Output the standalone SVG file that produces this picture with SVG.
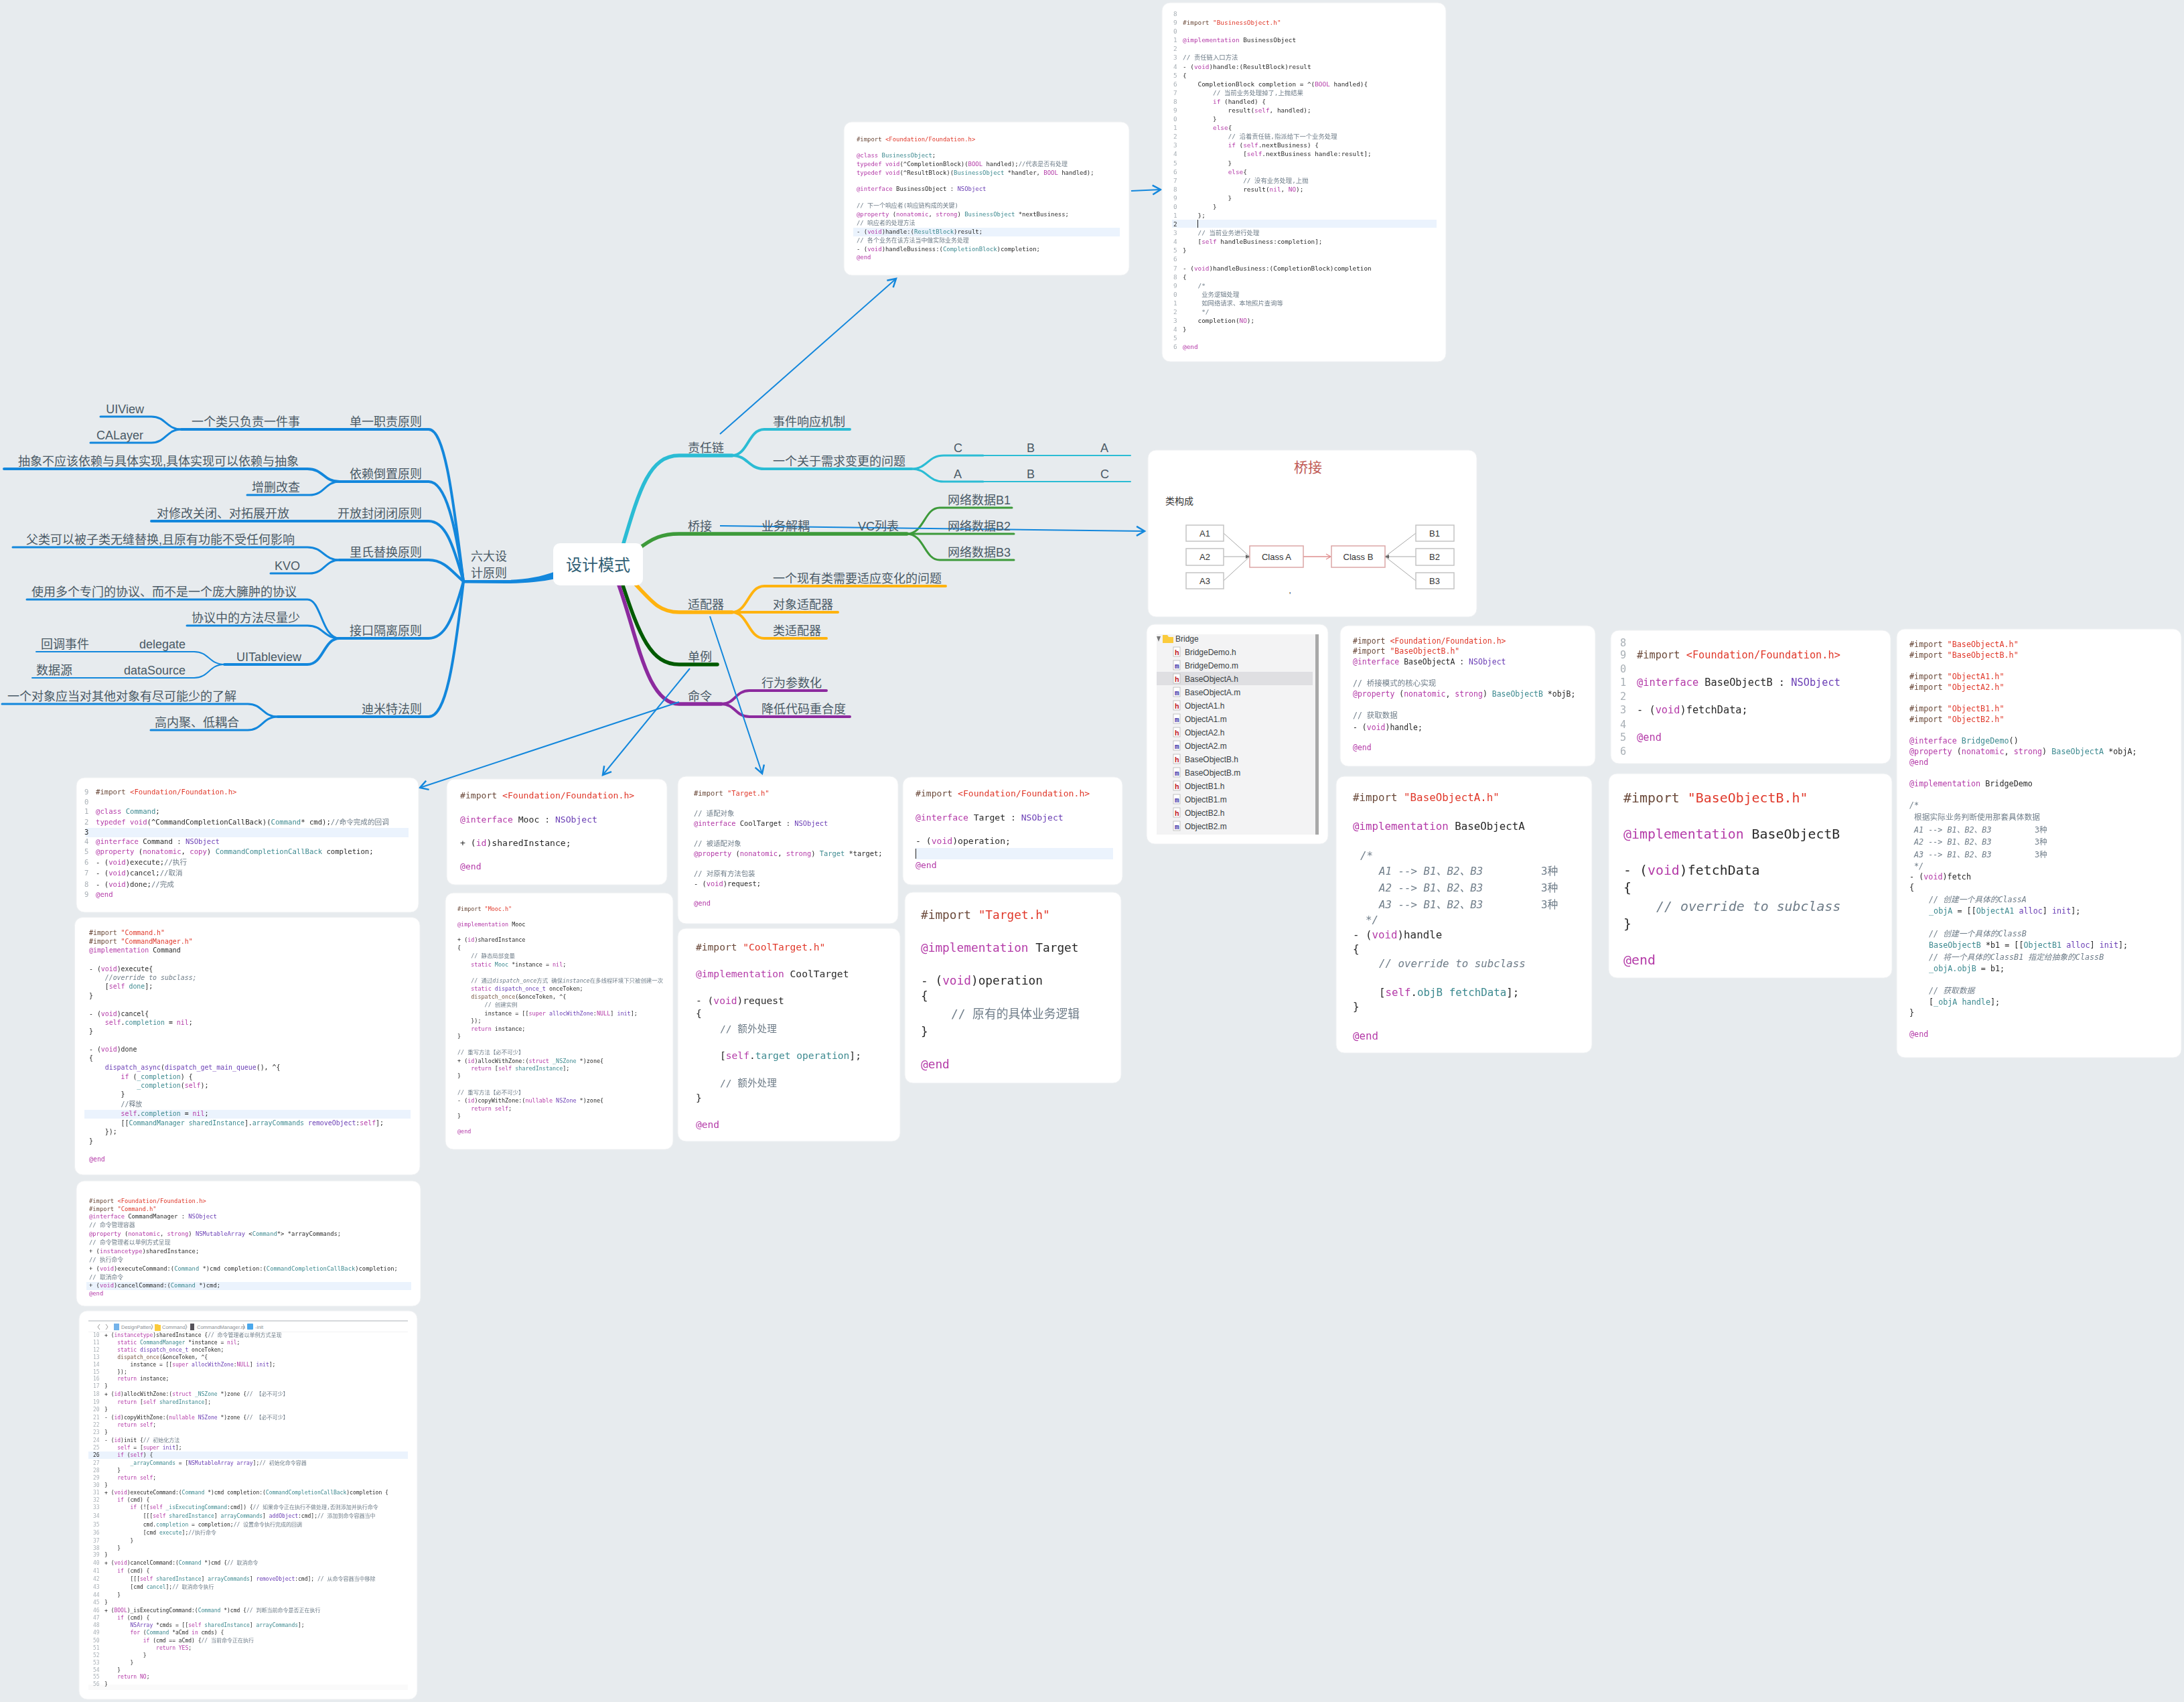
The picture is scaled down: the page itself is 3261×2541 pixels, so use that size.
<svg xmlns="http://www.w3.org/2000/svg" width="3261" height="2541" viewBox="0 0 3261 2541">
<style>
.card{fill:#fff;stroke:#eef0f2;stroke-width:1}
.hl{fill:#ebf3fd}
.topic{font-family:"Liberation Sans","Noto Sans CJK SC",sans-serif;font-size:18px;fill:#4a5a66}
.e{text-anchor:end}
.l{fill:none;stroke-linecap:round;stroke-linejoin:round}
.b{stroke:#1387dc}.cy{stroke:#2bbcd4}.gr{stroke:#3d9a3a}.ye{stroke:#ffb30f}.dg{stroke:#005a00}.pu{stroke:#8c2a9e}
.w2{stroke-width:2}.w3{stroke-width:3}.w4{stroke-width:4}.w5{stroke-width:5.5}
.ar{fill:none;stroke:#1387dc;stroke-width:2;marker-end:url(#open)}
.code text{font-family:"DejaVu Sans Mono","Noto Sans CJK SC",monospace;white-space:pre;fill:#2a2a2a}
.code text.num{fill:#a9b0b6}
.k{fill:#b43ba8}.s{fill:#e0392b}.t{fill:#3e8a90}.p{fill:#6b3fb5}.c{fill:#6f7d89}.i{font-style:italic}.d{fill:#6b4a3a}.m{fill:#7a5a48}
.code text.k{fill:#b43ba8}.code text.c{fill:#6f7d89}
.side text{font-family:"Liberation Sans","Noto Sans CJK SC",sans-serif;font-size:12px;fill:#3a3f44}
.box{fill:#fff;stroke:#c4c4c4;stroke-width:1.5}
.cbox{fill:#fff;stroke:#dba6a6;stroke-width:1.5}
.bt{font-family:"Liberation Sans","Noto Sans CJK SC",sans-serif;font-size:13px;fill:#333;text-anchor:middle}
.ficon{fill:#fff;stroke:#b5b5b5;stroke-width:.8}
.side text.h{fill:#c0202a;font-weight:bold;font-size:11px;font-family:"Liberation Mono",monospace}
.side text.mm{fill:#3b2fa8;font-weight:bold;font-size:11px;font-family:"Liberation Mono",monospace}
.crumb{font-family:"Liberation Sans",sans-serif;font-size:7.5px;fill:#8a8f95}
</style>
<defs>
<marker id="open" markerUnits="userSpaceOnUse" markerWidth="30" markerHeight="30" refX="15" refY="15" orient="auto" overflow="visible"><path d="M3,8 L15,15 L3,22" fill="none" stroke="#1387dc" stroke-width="2.5" stroke-linejoin="miter"/></marker>
<filter id="soft" x="-2%" y="-2%" width="104%" height="104%"><feGaussianBlur stdDeviation="0.45"/></filter>
</defs>
<rect width="3261" height="2541" fill="#e7ebee"/>

<g id="connectors">
<path fill="#1387dc" d="M830,853 C805,862 782,865.500 755,866 L692,866 L692,870.500 L755,871 C782,871 806,869 830,864 Z"/>
<path class="l b w4" d="M692,868 C678,760 666,641 640,641 L271,641"/>
<path class="l b w4" d="M692,868 C680,785 666,719 640,719 L507,719"/>
<path class="l b w4" d="M692,868 C676,810 664,778 640,778 L226,778"/>
<path class="l b w4" d="M692,868 C676,855 664,836 640,836 L507,836"/>
<path class="l b w4" d="M692,868 C676,925 664,953 640,953 L507,953"/>
<path class="l b w4" d="M692,868 C678,990 666,1070 640,1070 L415,1070"/>
<path class="l b w3" d="M271,641 C248,641 248,622 226,622 L150,622"/>
<path class="l b w3" d="M271,641 C248,641 248,661 226,661 L135,661"/>
<path class="l b w4" d="M507,719 C483,719 483,700 459,700 L6,700"/>
<path class="l b w3" d="M507,719 C485,719 485,739 462,739 L369,739"/>
<path class="l b w3" d="M507,836 C483,836 483,817 459,817 L19,817"/>
<path class="l b w3" d="M507,836 C485,836 485,856 462,856 L404,856"/>
<path class="l b w3" d="M507,953 C480,953 480,895 459,895 L40,895"/>
<path class="l b w3" d="M507,953 C483,953 483,934 459,934 L279,934"/>
<path class="l b w4" d="M507,953 C483,953 483,992 459,992 L335,992"/>
<path class="l b w2" d="M335,992 C312,992 312,973 290,973 L54,973"/>
<path class="l b w2" d="M335,992 C312,992 312,1012 290,1012 L48,1012"/>
<path class="l b w3" d="M415,1070 C392,1070 392,1051 370,1051 L3,1051"/>
<path class="l b w3" d="M415,1070 C392,1070 392,1090 370,1090 L225,1090"/>

<path class="l cy w5" d="M931,811 C955,730 970,680 1014,680 L1093,680"/>
<path class="l cy w4" d="M1093,680 C1117,680 1117,641 1141,641 L1269,641"/>
<path class="l cy w4" d="M1093,680 C1117,680 1117,700 1141,700 L1361,700"/>
<path class="l cy w3" d="M1361,700 C1385,700 1385,680 1409,680 L1468,680"/>
<path class="l cy w3" d="M1361,700 C1385,700 1385,719 1409,719 L1468,719"/>
<path class="l cy w2" d="M1468,680 L1688,680 M1468,719 L1688,719"/>
<path class="l gr w5" d="M950,822 C975,802 990,797 1014,797 L1354,797"/>
<path class="l gr w3" d="M1354,797 C1380,797 1380,758 1403,758 L1511,758"/>
<path class="l gr w3" d="M1354,797 L1514,797"/>
<path class="l gr w3" d="M1354,797 C1380,797 1380,836 1403,836 L1514,836"/>
<path class="l ye w5" d="M945,868 C975,900 985,914 1014,914 L1093,914"/>
<path class="l ye w4" d="M1093,914 C1117,914 1117,875 1141,875 L1412,875"/>
<path class="l ye w4" d="M1093,914 L1251,914"/>
<path class="l ye w4" d="M1093,914 C1117,914 1117,953 1141,953 L1234,953"/>
<path class="l dg w5" d="M928,868 C955,950 972,992 1014,992 L1071,992"/>
<path class="l pu w5" d="M922,868 C952,950 965,1051 1014,1051 L1077,1051"/>
<path class="l pu w4" d="M1077,1051 C1098,1051 1098,1031 1119,1031 L1234,1031"/>
<path class="l pu w4" d="M1077,1051 C1098,1051 1098,1070 1119,1070 L1269,1070"/>

<path class="ar" d="M1075,648 L1338,416"/>
<path class="ar" d="M1689,285 L1733,283"/>
<path class="ar" d="M1075,785 L1709,793"/>
<path class="ar" d="M1060,920 L1138,1155"/>
<path class="ar" d="M1030,998 L900,1157"/>
<path class="ar" d="M1014,1048 L627,1176"/>
</g>

<g id="node-root"><rect x="826" y="811" width="134" height="63" rx="10" fill="#fff"/><text x="893" y="852" text-anchor="middle" font-family="'Noto Sans CJK SC',sans-serif" font-size="24" fill="#2f5d73">设计模式</text></g>
<g id="node-six"><text class="topic" x="703" y="837">六大设</text><text class="topic" x="703" y="862">计原则</text></g>
<g id="node-srp"><text class="topic e" x="630" y="636">单一职责原则</text></g>
<g id="node-srp1"><text class="topic e" x="448" y="636">一个类只负责一件事</text></g>
<g id="node-uiview"><text class="topic e" x="215" y="617">UIView</text></g>
<g id="node-calayer"><text class="topic e" x="214" y="656">CALayer</text></g>
<g id="node-dip"><text class="topic e" x="630" y="714">依赖倒置原则</text></g>
<g id="node-dip1"><text class="topic e" x="446" y="695">抽象不应该依赖与具体实现,具体实现可以依赖与抽象</text></g>
<g id="node-dip2"><text class="topic e" x="448" y="734">增删改查</text></g>
<g id="node-ocp"><text class="topic e" x="630" y="773">开放封闭闭原则</text></g>
<g id="node-ocp1"><text class="topic e" x="432" y="773">对修改关闭、对拓展开放</text></g>
<g id="node-lsp"><text class="topic e" x="630" y="831">里氏替换原则</text></g>
<g id="node-lsp1"><text class="topic e" x="440" y="812">父类可以被子类无缝替换,且原有功能不受任何影响</text></g>
<g id="node-kvo"><text class="topic e" x="448" y="851">KVO</text></g>
<g id="node-isp"><text class="topic e" x="630" y="948">接口隔离原则</text></g>
<g id="node-isp1"><text class="topic e" x="443" y="890">使用多个专门的协议、而不是一个庞大臃肿的协议</text></g>
<g id="node-isp2"><text class="topic e" x="448" y="929">协议中的方法尽量少</text></g>
<g id="node-table"><text class="topic e" x="450" y="987">UITableview</text></g>
<g id="node-delegate"><text class="topic e" x="277" y="968">delegate</text></g>
<g id="node-cb"><text class="topic e" x="133" y="968">回调事件</text></g>
<g id="node-ds"><text class="topic e" x="277" y="1007">dataSource</text></g>
<g id="node-dsrc"><text class="topic e" x="108" y="1007">数据源</text></g>
<g id="node-lod"><text class="topic e" x="630" y="1065">迪米特法则</text></g>
<g id="node-lod1"><text class="topic e" x="353" y="1046">一个对象应当对其他对象有尽可能少的了解</text></g>
<g id="node-lod2"><text class="topic e" x="357" y="1085">高内聚、低耦合</text></g>

<g id="node-cor"><text class="topic" x="1027" y="675">责任链</text></g>
<g id="node-cor1"><text class="topic" x="1154" y="636">事件响应机制</text></g>
<g id="node-cor2"><text class="topic" x="1154" y="695">一个关于需求变更的问题</text></g>
<g id="node-c1"><text class="topic" x="1424" y="675">C</text></g>
<g id="node-b1"><text class="topic" x="1533" y="675">B</text></g>
<g id="node-a1"><text class="topic" x="1643" y="675">A</text></g>
<g id="node-a2"><text class="topic" x="1424" y="714">A</text></g>
<g id="node-b2"><text class="topic" x="1533" y="714">B</text></g>
<g id="node-c2"><text class="topic" x="1643" y="714">C</text></g>
<g id="node-bridge"><text class="topic" x="1027" y="792">桥接</text></g>
<g id="node-bridge1"><text class="topic" x="1137" y="792">业务解耦</text></g>
<g id="node-bridge2"><text class="topic" x="1281" y="792">VC列表</text></g>
<g id="node-net1"><text class="topic" x="1415" y="753">网络数据B1</text></g>
<g id="node-net2"><text class="topic" x="1415" y="792">网络数据B2</text></g>
<g id="node-net3"><text class="topic" x="1415" y="831">网络数据B3</text></g>
<g id="node-adapter"><text class="topic" x="1027" y="909">适配器</text></g>
<g id="node-ad1"><text class="topic" x="1154" y="870">一个现有类需要适应变化的问题</text></g>
<g id="node-ad2"><text class="topic" x="1154" y="909">对象适配器</text></g>
<g id="node-ad3"><text class="topic" x="1154" y="948">类适配器</text></g>
<g id="node-singleton"><text class="topic" x="1027" y="987">单例</text></g>
<g id="node-command"><text class="topic" x="1027" y="1046">命令</text></g>
<g id="node-cmd1"><text class="topic" x="1137" y="1026">行为参数化</text></g>
<g id="node-cmd2"><text class="topic" x="1137" y="1065">降低代码重合度</text></g>

<g id="card-business-h"><rect class="card" x="1260" y="182" width="426" height="229" rx="12"/><rect class="hl" x="1274" y="340" width="398" height="13"/>
<g class="code" font-size="8.94" filter="url(#soft)">
<text x="1279" y="211"><tspan class="d">#import </tspan><tspan class="s">&lt;Foundation/Foundation.h&gt;</tspan></text>
<text x="1279" y="235"><tspan class="k">@class</tspan> <tspan class="t">BusinessObject</tspan>;</text>
<text x="1279" y="248"><tspan class="k">typedef void</tspan>(^CompletionBlock)(<tspan class="k">BOOL</tspan> handled);<tspan class="c">//代表是否有处理</tspan></text>
<text x="1279" y="261"><tspan class="k">typedef void</tspan>(^ResultBlock)(<tspan class="t">BusinessObject</tspan> *handler, <tspan class="k">BOOL</tspan> handled);</text>
<text x="1279" y="285"><tspan class="k">@interface</tspan> BusinessObject : <tspan class="p">NSObject</tspan></text>
<text x="1279" y="310"><tspan class="c">// 下一个响应者(响应链构成的关键)</tspan></text>
<text x="1279" y="323"><tspan class="k">@property</tspan> (<tspan class="k">nonatomic</tspan>, <tspan class="k">strong</tspan>) <tspan class="t">BusinessObject</tspan> *nextBusiness;</text>
<text x="1279" y="336"><tspan class="c">// 响应者的处理方法</tspan></text>
<text x="1279" y="349">- (<tspan class="k">void</tspan>)handle:(<tspan class="t">ResultBlock</tspan>)result;</text>
<text x="1279" y="362"><tspan class="c">// 各个业务在该方法当中做实际业务处理</tspan></text>
<text x="1279" y="375">- (<tspan class="k">void</tspan>)handleBusiness:(<tspan class="t">CompletionBlock</tspan>)completion;</text>
<text x="1279" y="387" class="k">@end</text>
</g></g>

<g id="card-business-m"><rect class="card" x="1735" y="4" width="424" height="536" rx="12"/><rect class="hl" x="1750" y="328" width="395" height="12"/><rect x="1788" y="328" width="1" height="12" fill="#222"/>
<g class="code" font-size="9.37" filter="url(#soft)">
<text class="num" x="1752" y="24">8</text><text class="num" x="1752" y="37">9</text><text class="num" x="1752" y="50">0</text><text class="num" x="1752" y="63">1</text><text class="num" x="1752" y="76">2</text><text class="num" x="1752" y="89">3</text><text class="num" x="1752" y="103">4</text><text class="num" x="1752" y="116">5</text><text class="num" x="1752" y="129">6</text><text class="num" x="1752" y="142">7</text><text class="num" x="1752" y="155">8</text><text class="num" x="1752" y="168">9</text><text class="num" x="1752" y="181">0</text><text class="num" x="1752" y="194">1</text><text class="num" x="1752" y="207">2</text><text class="num" x="1752" y="220">3</text><text class="num" x="1752" y="233">4</text><text class="num" x="1752" y="247">5</text><text class="num" x="1752" y="260">6</text><text class="num" x="1752" y="273">7</text><text class="num" x="1752" y="286">8</text><text class="num" x="1752" y="299">9</text><text class="num" x="1752" y="312">0</text><text class="num" x="1752" y="325">1</text><text x="1752" y="338">2</text><text class="num" x="1752" y="351">3</text><text class="num" x="1752" y="364">4</text><text class="num" x="1752" y="377">5</text><text class="num" x="1752" y="390">6</text><text class="num" x="1752" y="404">7</text><text class="num" x="1752" y="417">8</text><text class="num" x="1752" y="430">9</text><text class="num" x="1752" y="443">0</text><text class="num" x="1752" y="456">1</text><text class="num" x="1752" y="469">2</text><text class="num" x="1752" y="482">3</text><text class="num" x="1752" y="495">4</text><text class="num" x="1752" y="508">5</text><text class="num" x="1752" y="521">6</text>
<text x="1766" y="37"><tspan class="d">#import </tspan><tspan class="s">"BusinessObject.h"</tspan></text>
<text x="1766" y="63"><tspan class="k">@implementation</tspan> BusinessObject</text>
<text x="1766" y="89"><tspan class="c">// 责任链入口方法</tspan></text>
<text x="1766" y="103">- (<tspan class="k">void</tspan>)handle:(ResultBlock)result</text>
<text x="1766" y="116">{</text>
<text x="1766" y="129">    CompletionBlock completion = ^(<tspan class="k">BOOL</tspan> handled){</text>
<text x="1766" y="142">        <tspan class="c">// 当前业务处理掉了,上抛结果</tspan></text>
<text x="1766" y="155">        <tspan class="k">if</tspan> (handled) {</text>
<text x="1766" y="168">            result(<tspan class="k">self</tspan>, handled);</text>
<text x="1766" y="181">        }</text>
<text x="1766" y="194">        <tspan class="k">else</tspan>{</text>
<text x="1766" y="207">            <tspan class="c">// 沿着责任链,指派给下一个业务处理</tspan></text>
<text x="1766" y="220">            <tspan class="k">if</tspan> (<tspan class="k">self</tspan>.nextBusiness) {</text>
<text x="1766" y="233">                [<tspan class="k">self</tspan>.nextBusiness handle:result];</text>
<text x="1766" y="247">            }</text>
<text x="1766" y="260">            <tspan class="k">else</tspan>{</text>
<text x="1766" y="273">                <tspan class="c">// 没有业务处理,上抛</tspan></text>
<text x="1766" y="286">                result(<tspan class="k">nil</tspan>, <tspan class="k">NO</tspan>);</text>
<text x="1766" y="299">            }</text>
<text x="1766" y="312">        }</text>
<text x="1766" y="325">    };</text>
<text x="1766" y="351">    <tspan class="c">// 当前业务进行处理</tspan></text>
<text x="1766" y="364">    [<tspan class="k">self</tspan> handleBusiness:completion];</text>
<text x="1766" y="377">}</text>
<text x="1766" y="404">- (<tspan class="k">void</tspan>)handleBusiness:(CompletionBlock)completion</text>
<text x="1766" y="417">{</text>
<text x="1766" y="430">    <tspan class="c">/*</tspan></text>
<text x="1766" y="443">     <tspan class="c">业务逻辑处理</tspan></text>
<text x="1766" y="456">     <tspan class="c">如网络请求、本地照片查询等</tspan></text>
<text x="1766" y="469">     <tspan class="c">*/</tspan></text>
<text x="1766" y="482">    completion(<tspan class="k">NO</tspan>);</text>
<text x="1766" y="495">}</text>
<text x="1766" y="521" class="k">@end</text>
</g></g>

<g id="card-bridge-diagram"><rect class="card" x="1714" y="672" width="491" height="249" rx="12"/>
<text x="1953" y="705" text-anchor="middle" font-family="'Noto Sans CJK SC',sans-serif" font-size="21" fill="#c05a55">桥接</text>
<text x="1740" y="753" font-family="'Noto Sans CJK SC',sans-serif" font-size="14" fill="#333">类构成</text>
<path d="M1827,796 L1866,831 M1827,831 L1866,831 M1827,867 L1866,831 M2114,796 L2068,831 M2114,831 L2068,831 M2114,867 L2068,831" fill="none" stroke="#a8a8a8" stroke-width="1"/>
<path d="M1946,831 L1986,831 M1980,827 L1987,831 L1980,835" fill="none" stroke="#e08f8f" stroke-width="1.3"/>
<path d="M1860,828 L1866,831 L1860,834 Z M2074,828 L2068,831 L2074,834 Z" fill="#666"/>
<rect class="box" x="1771" y="784" width="56" height="24"/><text class="bt" x="1799" y="801">A1</text>
<rect class="box" x="1771" y="819" width="56" height="25"/><text class="bt" x="1799" y="836">A2</text>
<rect class="box" x="1771" y="855" width="56" height="24"/><text class="bt" x="1799" y="872">A3</text>
<rect class="cbox" x="1866" y="815" width="80" height="32"/><text class="bt" x="1906" y="836">Class A</text>
<rect class="cbox" x="1988" y="815" width="80" height="32"/><text class="bt" x="2028" y="836">Class B</text>
<rect class="box" x="2114" y="784" width="57" height="24"/><text class="bt" x="2142" y="801">B1</text>
<rect class="box" x="2114" y="819" width="57" height="25"/><text class="bt" x="2142" y="836">B2</text>
<rect class="box" x="2114" y="855" width="57" height="24"/><text class="bt" x="2142" y="872">B3</text>
<text x="1925" y="893" font-family="'Liberation Sans',sans-serif" font-size="12" fill="#333">'</text>
</g>

<g id="card-bridge-files" class="side"><rect class="card" x="1712" y="932" width="271" height="328" rx="12"/><rect x="1727" y="947" width="242" height="299" fill="#f3f3f4"/><rect x="1964" y="947" width="5" height="299" fill="#a8a8a8"/><rect x="1727" y="1003" width="233" height="20" fill="#dfdfe2"/>
<path d="M1727,950 L1733,950 L1730,958 Z" fill="#777"/>
<path d="M1736,948 L1743,948 L1745,951 L1752,951 L1752,960 L1736,960 Z" fill="#fbcb3c"/>
<text x="1755" y="957.500">Bridge</text>
<rect class="ficon" x="1752" y="966" width="10" height="14"/><text class="h" x="1754" y="978">h</text><text x="1769" y="978">BridgeDemo.h</text>
<rect class="ficon" x="1752" y="986" width="10" height="14"/><text class="mm" x="1754" y="998">m</text><text x="1769" y="998">BridgeDemo.m</text>
<rect class="ficon" x="1752" y="1006" width="10" height="14"/><text class="h" x="1754" y="1018">h</text><text x="1769" y="1018">BaseObjectA.h</text>
<rect class="ficon" x="1752" y="1026" width="10" height="14"/><text class="mm" x="1754" y="1038">m</text><text x="1769" y="1038">BaseObjectA.m</text>
<rect class="ficon" x="1752" y="1046" width="10" height="14"/><text class="h" x="1754" y="1058">h</text><text x="1769" y="1058">ObjectA1.h</text>
<rect class="ficon" x="1752" y="1066" width="10" height="14"/><text class="mm" x="1754" y="1078">m</text><text x="1769" y="1078">ObjectA1.m</text>
<rect class="ficon" x="1752" y="1086" width="10" height="14"/><text class="h" x="1754" y="1098">h</text><text x="1769" y="1098">ObjectA2.h</text>
<rect class="ficon" x="1752" y="1106" width="10" height="14"/><text class="mm" x="1754" y="1118">m</text><text x="1769" y="1118">ObjectA2.m</text>
<rect class="ficon" x="1752" y="1126" width="10" height="14"/><text class="h" x="1754" y="1138">h</text><text x="1769" y="1138">BaseObjectB.h</text>
<rect class="ficon" x="1752" y="1146" width="10" height="14"/><text class="mm" x="1754" y="1158">m</text><text x="1769" y="1158">BaseObjectB.m</text>
<rect class="ficon" x="1752" y="1166" width="10" height="14"/><text class="h" x="1754" y="1178">h</text><text x="1769" y="1178">ObjectB1.h</text>
<rect class="ficon" x="1752" y="1186" width="10" height="14"/><text class="mm" x="1754" y="1198">m</text><text x="1769" y="1198">ObjectB1.m</text>
<rect class="ficon" x="1752" y="1206" width="10" height="14"/><text class="h" x="1754" y="1218">h</text><text x="1769" y="1218">ObjectB2.h</text>
<rect class="ficon" x="1752" y="1226" width="10" height="14"/><text class="mm" x="1754" y="1238">m</text><text x="1769" y="1238">ObjectB2.m</text>
</g>

<g id="card-basea-h"><rect class="card" x="2001" y="934" width="381" height="210" rx="12"/>
<g class="code" font-size="11.5" filter="url(#soft)">
<text x="2020" y="961"><tspan class="d">#import </tspan><tspan class="s">&lt;Foundation/Foundation.h&gt;</tspan></text>
<text x="2020" y="976"><tspan class="d">#import </tspan><tspan class="s">"BaseObjectB.h"</tspan></text>
<text x="2020" y="992"><tspan class="k">@interface</tspan> BaseObjectA : <tspan class="p">NSObject</tspan></text>
<text x="2020" y="1024"><tspan class="c">// 桥接模式的核心实现</tspan></text>
<text x="2020" y="1040"><tspan class="k">@property</tspan> (<tspan class="k">nonatomic</tspan>, <tspan class="k">strong</tspan>) <tspan class="t">BaseObjectB</tspan> *objB;</text>
<text x="2020" y="1072"><tspan class="c">// 获取数据</tspan></text>
<text x="2020" y="1090">- (<tspan class="k">void</tspan>)handle;</text>
<text x="2020" y="1120" class="k">@end</text>
</g></g>

<g id="card-baseb-h"><rect class="card" x="2405" y="941" width="418" height="199" rx="12"/>
<g class="code" font-size="15.3" filter="url(#soft)">
<text class="num" x="2419" y="965">8</text><text class="num" x="2419" y="983">9</text><text class="num" x="2419" y="1004">0</text><text class="num" x="2419" y="1024">1</text><text class="num" x="2419" y="1045">2</text><text class="num" x="2419" y="1065">3</text><text class="num" x="2419" y="1087">4</text><text class="num" x="2419" y="1106">5</text><text class="num" x="2419" y="1127">6</text>
<text x="2444" y="983"><tspan class="d">#import </tspan><tspan class="s">&lt;Foundation/Foundation.h&gt;</tspan></text>
<text x="2444" y="1024"><tspan class="k">@interface</tspan> BaseObjectB : <tspan class="p">NSObject</tspan></text>
<text x="2444" y="1065">- (<tspan class="k">void</tspan>)fetchData;</text>
<text x="2444" y="1106" class="k">@end</text>
</g></g>

<g id="card-demo-m"><rect class="card" x="2832" y="939" width="425" height="640" rx="12"/>
<g class="code" font-size="11.75" filter="url(#soft)">
<text x="2851" y="966"><tspan class="d">#import </tspan><tspan class="s">"BaseObjectA.h"</tspan></text>
<text x="2851" y="982"><tspan class="d">#import </tspan><tspan class="s">"BaseObjectB.h"</tspan></text>
<text x="2851" y="1014"><tspan class="d">#import </tspan><tspan class="s">"ObjectA1.h"</tspan></text>
<text x="2851" y="1030"><tspan class="d">#import </tspan><tspan class="s">"ObjectA2.h"</tspan></text>
<text x="2851" y="1062"><tspan class="d">#import </tspan><tspan class="s">"ObjectB1.h"</tspan></text>
<text x="2851" y="1078"><tspan class="d">#import </tspan><tspan class="s">"ObjectB2.h"</tspan></text>
<text x="2851" y="1110"><tspan class="k">@interface</tspan> <tspan class="t">BridgeDemo</tspan>()</text>
<text x="2851" y="1126"><tspan class="k">@property</tspan> (<tspan class="k">nonatomic</tspan>, <tspan class="k">strong</tspan>) <tspan class="t">BaseObjectA</tspan> *objA;</text>
<text x="2851" y="1142" class="k">@end</text>
<text x="2851" y="1174"><tspan class="k">@implementation</tspan> BridgeDemo</text>
<text x="2851" y="1206" class="c i">/*</text>
<text x="2858" y="1224" class="c">根据实际业务判断使用那套具体数据</text>
<text x="2858" y="1243" class="c i">A1 --&gt; B1、B2、B3</text><text x="3038" y="1243" class="c">3种</text>
<text x="2858" y="1261" class="c i">A2 --&gt; B1、B2、B3</text><text x="3038" y="1261" class="c">3种</text>
<text x="2858" y="1280" class="c i">A3 --&gt; B1、B2、B3</text><text x="3038" y="1280" class="c">3种</text>
<text x="2858" y="1297" class="c i">*/</text>
<text x="2851" y="1313">- (<tspan class="k">void</tspan>)fetch</text>
<text x="2851" y="1329">{</text>
<text x="2880" y="1347" class="c i">// 创建一个具体的ClassA</text>
<text x="2880" y="1364"><tspan class="t">_objA</tspan> = [[<tspan class="t">ObjectA1</tspan> <tspan class="p">alloc</tspan>] <tspan class="p">init</tspan>];</text>
<text x="2880" y="1398" class="c i">// 创建一个具体的ClassB</text>
<text x="2880" y="1415"><tspan class="t">BaseObjectB</tspan> *b1 = [[<tspan class="t">ObjectB1</tspan> <tspan class="p">alloc</tspan>] <tspan class="p">init</tspan>];</text>
<text x="2880" y="1433" class="c i">// 将一个具体的ClassB1 指定给抽象的ClassB</text>
<text x="2880" y="1450"><tspan class="t">_objA.objB</tspan> = b1;</text>
<text x="2880" y="1483" class="c i">// 获取数据</text>
<text x="2880" y="1500">[<tspan class="t">_objA</tspan> <tspan class="t">handle</tspan>];</text>
<text x="2851" y="1516">}</text>
<text x="2851" y="1548" class="k">@end</text>
</g></g>

<g id="card-basea-m"><rect class="card" x="1995" y="1159" width="382" height="413" rx="12"/>
<g class="code" font-size="15.8" filter="url(#soft)">
<text x="2020" y="1196"><tspan class="d">#import </tspan><tspan class="s">"BaseObjectA.h"</tspan></text>
<text x="2020" y="1239"><tspan class="k">@implementation</tspan> BaseObjectA</text>
<text x="2031" y="1283" class="c i">/*</text>
<text x="2059" y="1306" class="c i">A1 --&gt; B1、B2、B3</text><text x="2301" y="1306" class="c">3种</text>
<text x="2059" y="1331" class="c i">A2 --&gt; B1、B2、B3</text><text x="2301" y="1331" class="c">3种</text>
<text x="2059" y="1356" class="c i">A3 --&gt; B1、B2、B3</text><text x="2301" y="1356" class="c">3种</text>
<text x="2039" y="1379" class="c i">*/</text>
<text x="2020" y="1401">- (<tspan class="k">void</tspan>)handle</text>
<text x="2020" y="1422">{</text>
<text x="2059" y="1444" class="c i">// override to subclass</text>
<text x="2059" y="1487">[<tspan class="k">self</tspan>.<tspan class="t">objB fetchData</tspan>];</text>
<text x="2020" y="1508">}</text>
<text x="2020" y="1552" class="k">@end</text>
</g></g>

<g id="card-baseb-m"><rect class="card" x="2402" y="1155" width="423" height="305" rx="12"/>
<g class="code" font-size="19.9" filter="url(#soft)">
<text x="2424" y="1198"><tspan class="d">#import </tspan><tspan class="s">"BaseObjectB.h"</tspan></text>
<text x="2424" y="1252"><tspan class="k">@implementation</tspan> BaseObjectB</text>
<text x="2424" y="1306">- (<tspan class="k">void</tspan>)fetchData</text>
<text x="2424" y="1332">{</text>
<text x="2473" y="1360" class="c i">// override to subclass</text>
<text x="2424" y="1386">}</text>
<text x="2424" y="1440" class="k">@end</text>
</g></g>

<g id="card-mooc-h"><rect class="card" x="667" y="1163" width="329" height="158" rx="12"/>
<g class="code" font-size="13.1" filter="url(#soft)">
<text x="687" y="1192"><tspan class="d">#import </tspan><tspan class="s">&lt;Foundation/Foundation.h&gt;</tspan></text>
<text x="687" y="1228"><tspan class="k">@interface</tspan> Mooc : <tspan class="p">NSObject</tspan></text>
<text x="687" y="1263">+ (<tspan class="k">id</tspan>)sharedInstance;</text>
<text x="687" y="1298" class="k">@end</text>
</g></g>

<g id="card-mooc-m"><rect class="card" x="665" y="1333" width="340" height="383" rx="12"/>
<g class="code" font-size="8.44" filter="url(#soft)">
<text x="683" y="1360"><tspan class="d">#import </tspan><tspan class="s">"Mooc.h"</tspan></text>
<text x="683" y="1383"><tspan class="k">@implementation</tspan> Mooc</text>
<text x="683" y="1406">+ (<tspan class="k">id</tspan>)sharedInstance</text>
<text x="683" y="1418">{</text>
<text x="683" y="1430">    <tspan class="c">// 静态局部变量</tspan></text>
<text x="683" y="1443">    <tspan class="k">static</tspan> <tspan class="t">Mooc</tspan> *instance = <tspan class="k">nil</tspan>;</text>
<text x="683" y="1467">    <tspan class="c">// 通过<tspan class="i">dispatch_once</tspan>方式 确保<tspan class="i">instance</tspan>在多线程环境下只被创建一次</tspan></text>
<text x="683" y="1479">    <tspan class="k">static</tspan> <tspan class="p">dispatch_once_t</tspan> onceToken;</text>
<text x="683" y="1491">    <tspan class="m">dispatch_once</tspan>(&amp;onceToken, ^{</text>
<text x="683" y="1503">        <tspan class="c">// 创建实例</tspan></text>
<text x="683" y="1516">        instance = [[<tspan class="k">super</tspan> <tspan class="p">allocWithZone</tspan>:<tspan class="k">NULL</tspan>] <tspan class="p">init</tspan>];</text>
<text x="683" y="1527">    });</text>
<text x="683" y="1539">    <tspan class="k">return</tspan> instance;</text>
<text x="683" y="1550">}</text>
<text x="683" y="1574" class="c">// 重写方法【必不可少】</text>
<text x="683" y="1587">+ (<tspan class="k">id</tspan>)allocWithZone:(<tspan class="k">struct</tspan> <tspan class="t">_NSZone</tspan> *)zone{</text>
<text x="683" y="1598">    <tspan class="k">return</tspan> [<tspan class="k">self</tspan> <tspan class="t">sharedInstance</tspan>];</text>
<text x="683" y="1609">}</text>
<text x="683" y="1634" class="c">// 重写方法【必不可少】</text>
<text x="683" y="1646">- (<tspan class="k">id</tspan>)copyWithZone:(<tspan class="k">nullable</tspan> <tspan class="p">NSZone</tspan> *)zone{</text>
<text x="683" y="1658">    <tspan class="k">return self</tspan>;</text>
<text x="683" y="1669">}</text>
<text x="683" y="1692" class="k">@end</text>
</g></g>

<g id="card-cool-h"><rect class="card" x="1012" y="1159" width="329" height="220" rx="12"/>
<g class="code" font-size="10.4" filter="url(#soft)">
<text x="1036" y="1188"><tspan class="d">#import </tspan><tspan class="s">"Target.h"</tspan></text>
<text x="1036" y="1218" class="c">// 适配对象</text>
<text x="1036" y="1233"><tspan class="k">@interface</tspan> CoolTarget : <tspan class="p">NSObject</tspan></text>
<text x="1036" y="1263" class="c">// 被适配对象</text>
<text x="1036" y="1278"><tspan class="k">@property</tspan> (<tspan class="k">nonatomic</tspan>, <tspan class="k">strong</tspan>) <tspan class="t">Target</tspan> *target;</text>
<text x="1036" y="1308" class="c">// 对原有方法包装</text>
<text x="1036" y="1323">- (<tspan class="k">void</tspan>)request;</text>
<text x="1036" y="1352" class="k">@end</text>
</g></g>

<g id="card-target-h"><rect class="card" x="1348" y="1160" width="328" height="161" rx="12"/><rect class="hl" x="1367" y="1266" width="295" height="17"/><rect x="1367" y="1267" width="1" height="15" fill="#222"/>
<g class="code" font-size="13.1" filter="url(#soft)">
<text x="1367" y="1189"><tspan class="d">#import </tspan><tspan class="s">&lt;Foundation/Foundation.h&gt;</tspan></text>
<text x="1367" y="1225"><tspan class="k">@interface</tspan> Target : <tspan class="p">NSObject</tspan></text>
<text x="1367" y="1260">- (<tspan class="k">void</tspan>)operation;</text>
<text x="1367" y="1296" class="k">@end</text>
</g></g>

<g id="card-cool-m"><rect class="card" x="1012" y="1386" width="332" height="318" rx="12"/>
<g class="code" font-size="14.6" filter="url(#soft)">
<text x="1039" y="1419"><tspan class="d">#import </tspan><tspan class="s">"CoolTarget.h"</tspan></text>
<text x="1039" y="1459"><tspan class="k">@implementation</tspan> CoolTarget</text>
<text x="1039" y="1499">- (<tspan class="k">void</tspan>)request</text>
<text x="1039" y="1518">{</text>
<text x="1075" y="1541" class="c">// 额外处理</text>
<text x="1075" y="1581">[<tspan class="k">self</tspan>.<tspan class="t">target operation</tspan>];</text>
<text x="1075" y="1622" class="c">// 额外处理</text>
<text x="1039" y="1644">}</text>
<text x="1039" y="1684" class="k">@end</text>
</g></g>

<g id="card-target-m"><rect class="card" x="1351" y="1332" width="323" height="285" rx="12"/>
<g class="code" font-size="17.8" filter="url(#soft)">
<text x="1375" y="1372"><tspan class="d">#import </tspan><tspan class="s">"Target.h"</tspan></text>
<text x="1375" y="1421"><tspan class="k">@implementation</tspan> Target</text>
<text x="1375" y="1470">- (<tspan class="k">void</tspan>)operation</text>
<text x="1375" y="1493">{</text>
<text x="1420" y="1520" class="c">// 原有的具体业务逻辑</text>
<text x="1375" y="1546">}</text>
<text x="1375" y="1595" class="k">@end</text>
</g></g>

<g id="card-command-h"><rect class="card" x="114" y="1161" width="511" height="201" rx="12"/><rect class="hl" x="128" y="1236" width="482" height="14"/>
<g class="code" font-size="10.6" filter="url(#soft)">
<text class="num" x="126" y="1186">9</text><text class="num" x="126" y="1201">0</text><text class="num" x="126" y="1215">1</text><text class="num" x="126" y="1231">2</text><text x="126" y="1246">3</text><text class="num" x="126" y="1260">4</text><text class="num" x="126" y="1275">5</text><text class="num" x="126" y="1291">6</text><text class="num" x="126" y="1307">7</text><text class="num" x="126" y="1324">8</text><text class="num" x="126" y="1339">9</text>
<text x="143" y="1186"><tspan class="d">#import </tspan><tspan class="s">&lt;Foundation/Foundation.h&gt;</tspan></text>
<text x="143" y="1215"><tspan class="k">@class</tspan> <tspan class="t">Command</tspan>;</text>
<text x="143" y="1231"><tspan class="k">typedef void</tspan>(^CommandCompletionCallBack)(<tspan class="t">Command</tspan>* cmd);<tspan class="c">//命令完成的回调</tspan></text>
<text x="143" y="1260"><tspan class="k">@interface</tspan> Command : <tspan class="p">NSObject</tspan></text>
<text x="143" y="1275"><tspan class="k">@property</tspan> (<tspan class="k">nonatomic</tspan>, <tspan class="k">copy</tspan>) <tspan class="t">CommandCompletionCallBack</tspan> completion;</text>
<text x="143" y="1291">- (<tspan class="k">void</tspan>)execute;<tspan class="c">//执行</tspan></text>
<text x="143" y="1307">- (<tspan class="k">void</tspan>)cancel;<tspan class="c">//取消</tspan></text>
<text x="143" y="1324">- (<tspan class="k">void</tspan>)done;<tspan class="c">//完成</tspan></text>
<text x="143" y="1339" class="k">@end</text>
</g></g>

<g id="card-command-m"><rect class="card" x="111.500" y="1369.500" width="515.500" height="384.500" rx="12"/><rect class="hl" x="126" y="1657" width="487" height="13"/>
<g class="code" font-size="9.9" filter="url(#soft)">
<text x="133" y="1396"><tspan class="d">#import </tspan><tspan class="s">"Command.h"</tspan></text>
<text x="133" y="1409"><tspan class="d">#import </tspan><tspan class="s">"CommandManager.h"</tspan></text>
<text x="133" y="1422"><tspan class="k">@implementation</tspan> Command</text>
<text x="133" y="1450">- (<tspan class="k">void</tspan>)execute{</text>
<text x="133" y="1463">    <tspan class="c i">//override to subclass;</tspan></text>
<text x="133" y="1476">    [<tspan class="k">self</tspan> <tspan class="t">done</tspan>];</text>
<text x="133" y="1489.500">}</text>
<text x="133" y="1517">- (<tspan class="k">void</tspan>)cancel{</text>
<text x="133" y="1530">    <tspan class="k">self</tspan>.<tspan class="t">completion</tspan> = <tspan class="k">nil</tspan>;</text>
<text x="133" y="1543">}</text>
<text x="133" y="1570">- (<tspan class="k">void</tspan>)done</text>
<text x="133" y="1583">{</text>
<text x="133" y="1597">    <tspan class="p">dispatch_async</tspan>(<tspan class="p">dispatch_get_main_queue</tspan>(), ^{</text>
<text x="133" y="1610.500">        <tspan class="k">if</tspan> (<tspan class="t">_completion</tspan>) {</text>
<text x="133" y="1624">            <tspan class="t">_completion</tspan>(<tspan class="k">self</tspan>);</text>
<text x="133" y="1637">        }</text>
<text x="133" y="1652">        <tspan class="c">//释放</tspan></text>
<text x="133" y="1666">        <tspan class="k">self</tspan>.<tspan class="t">completion</tspan> = <tspan class="k">nil</tspan>;</text>
<text x="133" y="1680">        [[<tspan class="t">CommandManager sharedInstance</tspan>].<tspan class="t">arrayCommands</tspan> <tspan class="p">removeObject</tspan>:<tspan class="k">self</tspan>];</text>
<text x="133" y="1693">    });</text>
<text x="133" y="1706.600">}</text>
<text x="133" y="1733.500" class="k">@end</text>
</g></g>

<g id="card-manager-h"><rect class="card" x="114" y="1763" width="514" height="187" rx="12"/><rect class="hl" x="129" y="1914" width="485" height="12"/>
<g class="code" font-size="8.8" filter="url(#soft)">
<text x="133" y="1796"><tspan class="d">#import </tspan><tspan class="s">&lt;Foundation/Foundation.h&gt;</tspan></text>
<text x="133" y="1808"><tspan class="d">#import </tspan><tspan class="s">"Command.h"</tspan></text>
<text x="133" y="1819"><tspan class="k">@interface</tspan> CommandManager : <tspan class="p">NSObject</tspan></text>
<text x="133" y="1832" class="c">// 命令管理容器</text>
<text x="133" y="1845"><tspan class="k">@property</tspan> (<tspan class="k">nonatomic</tspan>, <tspan class="k">strong</tspan>) <tspan class="p">NSMutableArray</tspan> &lt;<tspan class="t">Command</tspan>*&gt; *arrayCommands;</text>
<text x="133" y="1858" class="c">// 命令管理者以单例方式呈现</text>
<text x="133" y="1871">+ (<tspan class="k">instancetype</tspan>)sharedInstance;</text>
<text x="133" y="1884" class="c">// 执行命令</text>
<text x="133" y="1897">+ (<tspan class="k">void</tspan>)executeCommand:(<tspan class="t">Command</tspan> *)cmd completion:(<tspan class="t">CommandCompletionCallBack</tspan>)completion;</text>
<text x="133" y="1910" class="c">// 取消命令</text>
<text x="133" y="1922">+ (<tspan class="k">void</tspan>)cancelCommand:(<tspan class="t">Command</tspan> *)cmd;</text>
<text x="133" y="1934" class="k">@end</text>
</g></g>

<g id="card-manager-m"><rect class="card" x="118" y="1957" width="505" height="580" rx="12"/><rect x="132" y="1971" width="477" height="2" fill="#d5d8db"/><rect x="132" y="1988" width="477" height="1" fill="#f1f2f3"/><rect class="hl" x="132" y="2167" width="477" height="11"/><rect x="132" y="2515" width="477" height="8" fill="#fafafa"/>
<path d="M149,1977 L146,1981 L149,1985 M158,1977 L161,1981 L158,1985 M226,1977 L228,1981 L226,1985 M277,1977 L279,1981 L277,1985 M363,1977 L365,1981 L363,1985" fill="none" stroke="#999" stroke-width="1"/>
<rect x="170" y="1976" width="8" height="10" fill="#74b3ea"/><path d="M231,1977 L236,1977 L237,1978 L240,1978 L240,1987 L231,1987 Z" fill="#fbcb3c"/><rect x="284" y="1976" width="6" height="10" fill="#55525a"/><rect x="369" y="1976" width="9" height="9" rx="1" fill="#4aa8ec"/>
<text class="crumb" x="181" y="1984">DesignPatten</text><text class="crumb" x="242" y="1984">Command</text><text class="crumb" x="294" y="1984">CommandManager.m</text><text class="crumb" x="381" y="1984">-init</text>
<g class="code" font-size="8" filter="url(#soft)">
<text class="num" x="139" y="1995.700">10</text><text class="num" x="139" y="2007.300">11</text><text class="num" x="139" y="2018">12</text><text class="num" x="139" y="2029">13</text><text class="num" x="139" y="2039.700">14</text><text class="num" x="139" y="2050.700">15</text><text class="num" x="139" y="2061.300">16</text><text class="num" x="139" y="2072">17</text><text class="num" x="139" y="2084">18</text><text class="num" x="139" y="2095.700">19</text><text class="num" x="139" y="2106.700">20</text><text class="num" x="139" y="2118.700">21</text><text class="num" x="139" y="2130">22</text><text class="num" x="139" y="2141">23</text><text class="num" x="139" y="2152.700">24</text><text class="num" x="139" y="2164">25</text><text x="139" y="2175">26</text><text class="num" x="139" y="2187">27</text><text class="num" x="139" y="2198.300">28</text><text class="num" x="139" y="2209.300">29</text><text class="num" x="139" y="2220">30</text><text class="num" x="139" y="2230.700">31</text><text class="num" x="139" y="2241.700">32</text><text class="num" x="139" y="2253.300">33</text><text class="num" x="139" y="2266.300">34</text><text class="num" x="139" y="2279">35</text><text class="num" x="139" y="2291.300">36</text><text class="num" x="139" y="2303">37</text><text class="num" x="139" y="2313.700">38</text><text class="num" x="139" y="2324.300">39</text><text class="num" x="139" y="2336.300">40</text><text class="num" x="139" y="2348">41</text><text class="num" x="139" y="2359.700">42</text><text class="num" x="139" y="2372.300">43</text><text class="num" x="139" y="2384">44</text><text class="num" x="139" y="2394.700">45</text><text class="num" x="139" y="2406.700">46</text><text class="num" x="139" y="2418">47</text><text class="num" x="139" y="2429">48</text><text class="num" x="139" y="2439.700">49</text><text class="num" x="139" y="2451.700">50</text><text class="num" x="139" y="2463.300">51</text><text class="num" x="139" y="2474">52</text><text class="num" x="139" y="2484.700">53</text><text class="num" x="139" y="2495.700">54</text><text class="num" x="139" y="2506.300">55</text><text class="num" x="139" y="2517">56</text>
<text x="156" y="1995.700">+ (<tspan class="k">instancetype</tspan>)sharedInstance {<tspan class="c">// 命令管理者以单例方式呈现</tspan></text>
<text x="156" y="2007.300">    <tspan class="k">static</tspan> <tspan class="t">CommandManager</tspan> *instance = <tspan class="k">nil</tspan>;</text>
<text x="156" y="2018">    <tspan class="k">static</tspan> <tspan class="p">dispatch_once_t</tspan> onceToken;</text>
<text x="156" y="2029">    <tspan class="m">dispatch_once</tspan>(&amp;onceToken, ^{</text>
<text x="156" y="2039.700">        instance = [[<tspan class="k">super</tspan> <tspan class="p">allocWithZone</tspan>:<tspan class="k">NULL</tspan>] <tspan class="p">init</tspan>];</text>
<text x="156" y="2050.700">    });</text>
<text x="156" y="2061.300">    <tspan class="k">return</tspan> instance;</text>
<text x="156" y="2072">}</text>
<text x="156" y="2084">+ (<tspan class="k">id</tspan>)allocWithZone:(<tspan class="k">struct</tspan> <tspan class="t">_NSZone</tspan> *)zone {<tspan class="c">// 【必不可少】</tspan></text>
<text x="156" y="2095.700">    <tspan class="k">return</tspan> [<tspan class="k">self</tspan> <tspan class="t">sharedInstance</tspan>];</text>
<text x="156" y="2106.700">}</text>
<text x="156" y="2118.700">- (<tspan class="k">id</tspan>)copyWithZone:(<tspan class="k">nullable</tspan> <tspan class="p">NSZone</tspan> *)zone {<tspan class="c">// 【必不可少】</tspan></text>
<text x="156" y="2130">    <tspan class="k">return self</tspan>;</text>
<text x="156" y="2141">}</text>
<text x="156" y="2152.700">- (<tspan class="k">id</tspan>)init {<tspan class="c">// 初始化方法</tspan></text>
<text x="156" y="2164">    <tspan class="k">self</tspan> = [<tspan class="k">super</tspan> <tspan class="p">init</tspan>];</text>
<text x="156" y="2175">    <tspan class="k">if</tspan> (<tspan class="k">self</tspan>) {</text>
<text x="156" y="2187">        <tspan class="t">_arrayCommands</tspan> = [<tspan class="p">NSMutableArray</tspan> <tspan class="p">array</tspan>];<tspan class="c">// 初始化命令容器</tspan></text>
<text x="156" y="2198.300">    }</text>
<text x="156" y="2209.300">    <tspan class="k">return self</tspan>;</text>
<text x="156" y="2220">}</text>
<text x="156" y="2230.700">+ (<tspan class="k">void</tspan>)executeCommand:(<tspan class="t">Command</tspan> *)cmd completion:(<tspan class="t">CommandCompletionCallBack</tspan>)completion {</text>
<text x="156" y="2241.700">    <tspan class="k">if</tspan> (cmd) {</text>
<text x="156" y="2253.300">        <tspan class="k">if</tspan> (![<tspan class="k">self</tspan> <tspan class="t">_isExecutingCommand</tspan>:cmd]) {<tspan class="c">// 如果命令正在执行不做处理,否则添加并执行命令</tspan></text>
<text x="156" y="2266.300">            [[[<tspan class="k">self</tspan> <tspan class="t">sharedInstance</tspan>] <tspan class="t">arrayCommands</tspan>] <tspan class="p">addObject</tspan>:cmd];<tspan class="c">// 添加到命令容器当中</tspan></text>
<text x="156" y="2279">            cmd.<tspan class="t">completion</tspan> = completion;<tspan class="c">// 设置命令执行完成的回调</tspan></text>
<text x="156" y="2291.300">            [cmd <tspan class="t">execute</tspan>];<tspan class="c">//执行命令</tspan></text>
<text x="156" y="2303">        }</text>
<text x="156" y="2313.700">    }</text>
<text x="156" y="2324.300">}</text>
<text x="156" y="2336.300">+ (<tspan class="k">void</tspan>)cancelCommand:(<tspan class="t">Command</tspan> *)cmd {<tspan class="c">// 取消命令</tspan></text>
<text x="156" y="2348">    <tspan class="k">if</tspan> (cmd) {</text>
<text x="156" y="2359.700">        [[[<tspan class="k">self</tspan> <tspan class="t">sharedInstance</tspan>] <tspan class="t">arrayCommands</tspan>] <tspan class="p">removeObject</tspan>:cmd]; <tspan class="c">// 从命令容器当中移除</tspan></text>
<text x="156" y="2372.300">        [cmd <tspan class="t">cancel</tspan>];<tspan class="c">// 取消命令执行</tspan></text>
<text x="156" y="2384">    }</text>
<text x="156" y="2394.700">}</text>
<text x="156" y="2406.700">+ (<tspan class="k">BOOL</tspan>)_isExecutingCommand:(<tspan class="t">Command</tspan> *)cmd {<tspan class="c">// 判断当前命令是否正在执行</tspan></text>
<text x="156" y="2418">    <tspan class="k">if</tspan> (cmd) {</text>
<text x="156" y="2429">        <tspan class="p">NSArray</tspan> *cmds = [[<tspan class="k">self</tspan> <tspan class="t">sharedInstance</tspan>] <tspan class="t">arrayCommands</tspan>];</text>
<text x="156" y="2439.700">        <tspan class="k">for</tspan> (<tspan class="t">Command</tspan> *aCmd <tspan class="k">in</tspan> cmds) {</text>
<text x="156" y="2451.700">            <tspan class="k">if</tspan> (cmd == aCmd) {<tspan class="c">// 当前命令正在执行</tspan></text>
<text x="156" y="2463.300">                <tspan class="k">return YES</tspan>;</text>
<text x="156" y="2474">            }</text>
<text x="156" y="2484.700">        }</text>
<text x="156" y="2495.700">    }</text>
<text x="156" y="2506.300">    <tspan class="k">return NO</tspan>;</text>
<text x="156" y="2517">}</text>
</g></g>
</svg>
